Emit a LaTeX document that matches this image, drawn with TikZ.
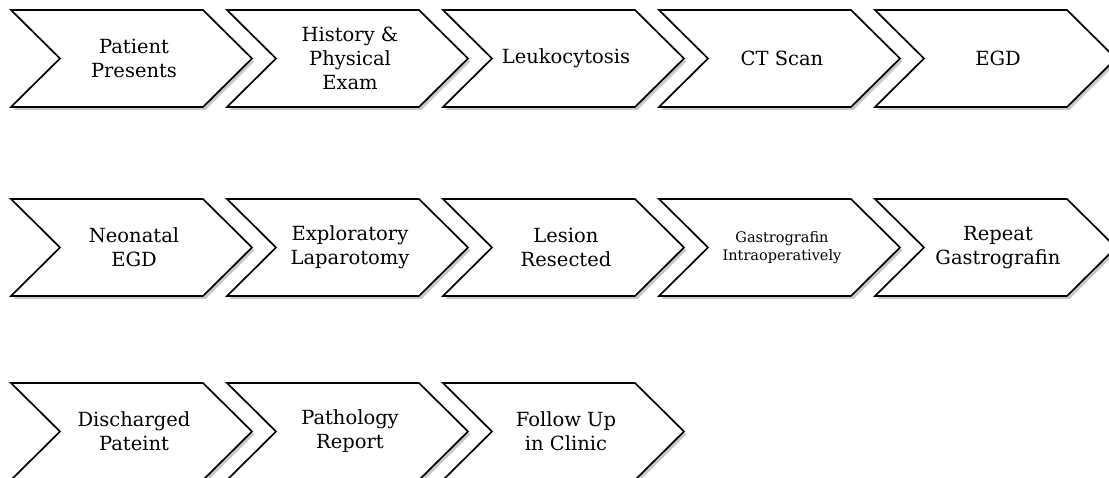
\documentclass[tikz,border=0pt]{standalone}
\usepackage{fontspec}
\setmainfont{DejaVu Serif}
\usetikzlibrary{shadows}
\tikzset{
  chev/.style={draw=black, line width=1.7pt, fill=white, line join=miter,
    drop shadow={opacity=0.35, shadow xshift=2.5pt, shadow yshift=-3pt, fill=black!60}},
  lbl/.style={align=center, font=\fontsize{19.5}{24}\selectfont, inner sep=0pt},
  small/.style={align=center, font=\fontsize{14.5}{18.5}\selectfont, inner sep=0pt}
}
% #1 name, #2 left x, #3 top y, #4 text, #5 style
\newcommand{\chevron}[5]{%
  \path[chev] (#2,#3) -- ++(192,0) -- ++(49,48.5) -- ++(-49,48.5) -- ++(-192,0) -- ++(49,-48.5) -- cycle;
  \node[#5] (#1) at ({#2+123},{#3+48.5}) {#4};
}
\begin{document}
\begin{tikzpicture}[x=1pt,y=-1pt]
\useasboundingbox (0,0) rectangle (1109,478);
\clip (0,0) rectangle (1109,478);
\fill[white] (0,0) rectangle (1109,478);
% row 1
\chevron{n1}{11}{10}{Patient\\Presents}{lbl}
\chevron{n2}{227}{10}{History \&\\Physical\\Exam}{lbl}
\chevron{n3}{443}{10}{Leukocytosis}{lbl}
\chevron{n4}{659}{10}{CT Scan}{lbl}
\chevron{n5}{875}{10}{EGD}{lbl}
% row 2
\chevron{n6}{11}{199}{Neonatal\\EGD}{lbl}
\chevron{n7}{227}{199}{Exploratory\\Laparotomy}{lbl}
\chevron{n8}{443}{199}{Lesion\\Resected}{lbl}
\chevron{n9}{659}{199}{Gastrografin\\Intraoperatively}{small}
\chevron{n10}{875}{199}{Repeat\\Gastrografin}{lbl}
% row 3
\chevron{n11}{11}{383}{Discharged\\Pateint}{lbl}
\chevron{n12}{227}{383}{Pathology\\Report}{lbl}
\chevron{n13}{443}{383}{Follow Up\\in Clinic}{lbl}
\end{tikzpicture}
\end{document}
